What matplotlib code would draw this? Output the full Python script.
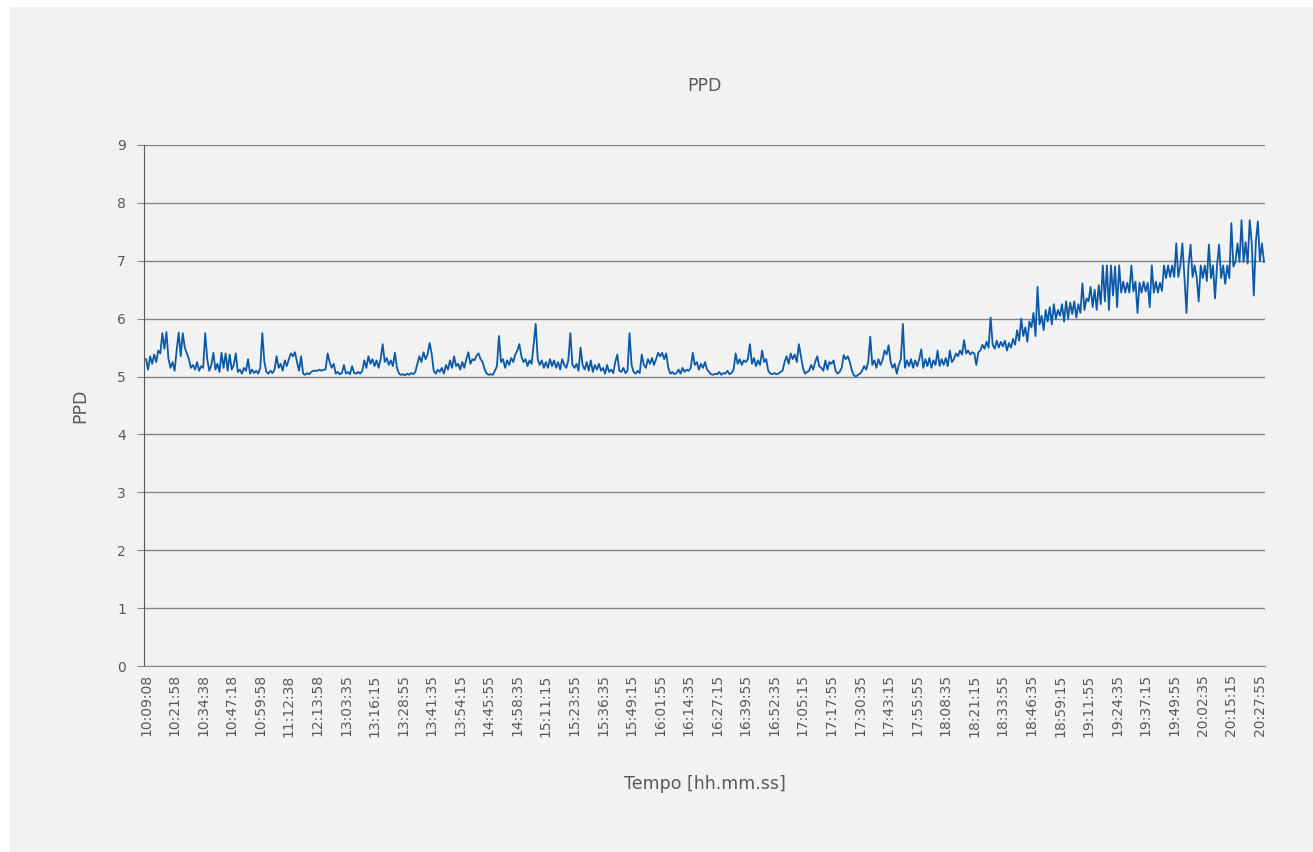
#!/usr/bin/env python3
"""PPD over the day, line chart read off a spreadsheet export."""

import matplotlib
matplotlib.use("Agg")
import matplotlib.pyplot as plt
import numpy as np

# tick labels along the time axis (one every 14 plotted samples)
time_labels = [
    "10:09:08", "10:21:58", "10:34:38", "10:47:18", "10:59:58", "11:12:38",
    "12:13:58", "13:03:35", "13:16:15", "13:28:55", "13:41:35", "13:54:15",
    "14:45:55", "14:58:35", "15:11:15", "15:23:55", "15:36:35", "15:49:15",
    "16:01:55", "16:14:35", "16:27:15", "16:39:55", "16:52:35", "17:05:15",
    "17:17:55", "17:30:35", "17:43:15", "17:55:55", "18:08:35", "18:21:15",
    "18:33:55", "18:46:35", "18:59:15", "19:11:55", "19:24:35", "19:37:15",
    "19:49:55", "20:02:35", "20:15:15", "20:27:55",
]

# PPD samples (14 per label interval)
ppd_morning = [
    5.30, 5.12, 5.35, 5.22, 5.38, 5.25, 5.45, 5.40, 5.75, 5.48, 5.77, 5.30, 5.15, 5.25,
    5.10, 5.45, 5.76, 5.35, 5.75, 5.50, 5.40, 5.30, 5.15, 5.20, 5.12, 5.25, 5.10, 5.18,
    5.15, 5.75, 5.30, 5.10, 5.20, 5.41, 5.12, 5.22, 5.08, 5.41, 5.15, 5.40, 5.10, 5.38,
    5.12, 5.20, 5.40, 5.08, 5.12, 5.05, 5.15, 5.10, 5.30, 5.05, 5.12, 5.06, 5.10, 5.05,
    5.15, 5.75, 5.25, 5.08, 5.05, 5.10, 5.06, 5.12, 5.35, 5.15, 5.22, 5.10, 5.28, 5.18,
    5.30, 5.40, 5.35, 5.42, 5.25, 5.10, 5.35, 5.05, 5.03, 5.06, 5.04, 5.08, 5.10, 5.10,
    5.10, 5.12, 5.10, 5.12, 5.12, 5.40, 5.25, 5.15, 5.22, 5.05, 5.08, 5.04, 5.06, 5.20,
    5.05, 5.08, 5.04, 5.18, 5.06, 5.05, 5.08, 5.05, 5.10, 5.28, 5.15, 5.35, 5.22, 5.30,
    5.18, 5.28, 5.15, 5.30, 5.56, 5.25, 5.32, 5.20, 5.28, 5.18, 5.41, 5.15, 5.05, 5.03,
    5.04, 5.02, 5.05, 5.03, 5.06, 5.04, 5.08, 5.22, 5.35, 5.25, 5.42, 5.30, 5.38, 5.58,
]
ppd_midday = [
    5.40, 5.10, 5.05, 5.12, 5.08, 5.15, 5.05, 5.20, 5.12, 5.28, 5.15, 5.35, 5.18, 5.22,
    5.12, 5.25, 5.15, 5.30, 5.42, 5.22, 5.30, 5.28, 5.36, 5.40, 5.30, 5.25, 5.12, 5.05,
    5.03, 5.04, 5.03, 5.10, 5.18, 5.70, 5.25, 5.30, 5.15, 5.28, 5.20, 5.32, 5.25, 5.38,
    5.45, 5.56, 5.35, 5.25, 5.30, 5.18, 5.28, 5.22, 5.55, 5.91, 5.30, 5.20, 5.28, 5.15,
    5.25, 5.15, 5.30, 5.18, 5.28, 5.15, 5.25, 5.12, 5.30, 5.20, 5.15, 5.28, 5.75, 5.20,
    5.15, 5.22, 5.10, 5.50, 5.20, 5.12, 5.25, 5.10, 5.28, 5.08, 5.20, 5.12, 5.22, 5.10,
    5.15, 5.05, 5.20, 5.08, 5.12, 5.06, 5.25, 5.38, 5.10, 5.08, 5.15, 5.06, 5.10, 5.75,
    5.20, 5.08, 5.05, 5.10, 5.06, 5.38, 5.20, 5.15, 5.30, 5.22, 5.32, 5.20, 5.30, 5.41,
    5.35, 5.41, 5.30, 5.40, 5.15, 5.05, 5.08, 5.04, 5.06, 5.12, 5.05, 5.15, 5.08, 5.12,
    5.10, 5.15, 5.41, 5.20, 5.25, 5.12, 5.22, 5.15, 5.25, 5.12, 5.08, 5.04, 5.03, 5.05,
]
ppd_afternoon = [
    5.04, 5.08, 5.03, 5.06, 5.05, 5.10, 5.04, 5.06, 5.12, 5.40, 5.22, 5.30, 5.20, 5.28,
    5.25, 5.30, 5.56, 5.22, 5.32, 5.18, 5.28, 5.20, 5.45, 5.25, 5.30, 5.10, 5.05, 5.04,
    5.06, 5.04, 5.05, 5.08, 5.10, 5.25, 5.35, 5.22, 5.40, 5.30, 5.38, 5.25, 5.56, 5.35,
    5.15, 5.05, 5.08, 5.10, 5.20, 5.12, 5.25, 5.35, 5.18, 5.15, 5.10, 5.28, 5.12, 5.25,
    5.22, 5.28, 5.10, 5.05, 5.08, 5.15, 5.37, 5.30, 5.35, 5.25, 5.10, 5.02, 5.00, 5.03,
    5.05, 5.10, 5.18, 5.12, 5.25, 5.69, 5.20, 5.28, 5.15, 5.30, 5.20, 5.28, 5.45, 5.38,
    5.54, 5.25, 5.15, 5.22, 5.05, 5.20, 5.30, 5.91, 5.15, 5.28, 5.18, 5.30, 5.15, 5.28,
    5.18, 5.30, 5.47, 5.15, 5.30, 5.18, 5.32, 5.15, 5.28, 5.20, 5.45, 5.18, 5.30, 5.20,
    5.32, 5.18, 5.45, 5.25, 5.30, 5.40, 5.35, 5.45, 5.38, 5.63, 5.40, 5.45, 5.38, 5.42,
    5.40, 5.20, 5.42, 5.45, 5.55, 5.48, 5.60, 5.50, 6.02, 5.55, 5.48, 5.62, 5.50, 5.60,
]
ppd_evening = [
    5.52, 5.62, 5.45, 5.58, 5.50, 5.65, 5.55, 5.80, 5.62, 6.00, 5.70, 5.85, 5.60, 5.95,
    5.85, 6.10, 5.70, 6.55, 5.90, 6.05, 5.80, 6.15, 5.95, 6.20, 5.90, 6.25, 6.00, 6.15,
    6.05, 6.25, 5.95, 6.30, 6.00, 6.28, 6.08, 6.30, 6.02, 6.25, 6.10, 6.61, 6.15, 6.35,
    6.30, 6.55, 6.20, 6.50, 6.15, 6.58, 6.25, 6.92, 6.30, 6.92, 6.15, 6.92, 6.40, 6.90,
    6.20, 6.92, 6.45, 6.64, 6.45, 6.62, 6.45, 6.92, 6.47, 6.64, 6.10, 6.62, 6.45, 6.64,
    6.47, 6.62, 6.20, 6.92, 6.45, 6.64, 6.45, 6.62, 6.48, 6.92, 6.70, 6.92, 6.72, 6.92,
    6.72, 7.30, 6.72, 6.92, 7.30, 6.72, 6.10, 6.92, 7.28, 6.72, 6.92, 6.72, 6.30, 6.92,
    6.70, 6.92, 6.65, 7.28, 6.70, 6.92, 6.35, 6.92, 7.28, 6.70, 6.92, 6.60, 6.92, 6.70,
    7.65, 6.90, 6.98, 7.30, 6.98, 7.70, 6.98, 7.32, 6.95, 7.70, 7.30, 6.40, 7.32, 7.68,
    7.00, 7.30, 6.98,
]

ppd = np.array(ppd_morning + ppd_midday + ppd_afternoon + ppd_evening)
step = 14

TEXT = "#595959"
GRID = "#868686"
LINE = "#0a5aa8"

plt.rcParams["font.family"] = ["DejaVu Sans"]

fig = plt.figure(figsize=(13.13, 8.52), dpi=100)
fig.patch.set_facecolor("white")
# grey chart area, leaving the thin white margin top-left
panel = plt.Rectangle((10 / 1313, 0), 1, 1 - 7 / 852, transform=fig.transFigure,
                      facecolor="#f2f2f2", edgecolor="none", zorder=-10)
fig.add_artist(panel)

ax = fig.add_axes([144 / 1313, 1 - 666 / 852, 1121 / 1313, 521 / 852])
ax.set_facecolor("none")
ax.set_zorder(1)

x = np.arange(len(ppd))
ax.plot(x, ppd, color=LINE, lw=1.3, zorder=3)

ax.set_xlim(-1, len(ppd) - 0.5)
ax.set_ylim(0, 9)
ax.set_yticks(range(10))
ax.set_xticks(np.arange(0, step * len(time_labels), step))
ax.set_xticklabels(time_labels, rotation=90, fontsize=10, color=TEXT)
ax.tick_params(axis="x", length=0, pad=6)
ax.tick_params(axis="y", length=5, color=GRID, labelsize=10, labelcolor=TEXT, pad=8)

ax.yaxis.grid(True, color=GRID, lw=1.0, zorder=1)
ax.set_axisbelow(True)
for side in ("top", "right"):
    ax.spines[side].set_visible(False)
ax.spines["bottom"].set_color(GRID)
ax.spines["left"].set_color("#595959")

ax.set_title("PPD", fontsize=12.5, color=TEXT, pad=39)
ax.set_ylabel("PPD", fontsize=12.5, color=TEXT, labelpad=20)
ax.set_xlabel("Tempo [hh.mm.ss]", fontsize=12.5, color=TEXT, labelpad=28)

fig.savefig("out.png", dpi=100, facecolor=fig.get_facecolor())
plt.close(fig)
